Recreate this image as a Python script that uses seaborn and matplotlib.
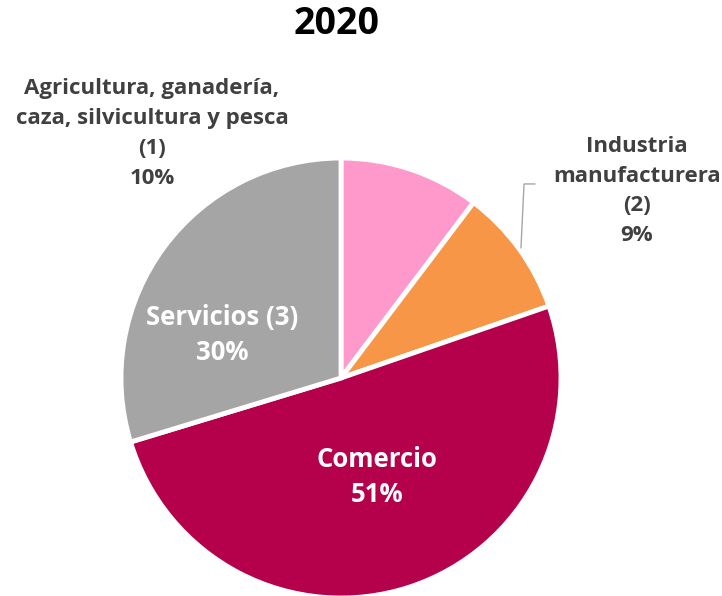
import seaborn as sns
import matplotlib.pyplot as plt

sectores = ['Agricultura, ganadería,\ncaza, silvicultura y pesca\n(1)',
            'Industria\nmanufacturera\n(2)',
            'Comercio',
            'Servicios (3)']
valores = [10.3, 9.4, 50.6, 29.7]
colores = ['#FF99CC', '#F79646', '#B5004B', '#A5A5A5']

sns.set_theme(style='white')
plt.rcParams['font.family'] = ['Open Sans', 'DejaVu Sans']

fig = plt.figure(figsize=(7.22, 5.96), dpi=100)
ax = fig.add_axes([121 / 722, -2 / 596, 440 / 722, 440 / 596])

ax.pie(valores, colors=colores, startangle=90, counterclock=False,
       radius=1, wedgeprops=dict(edgecolor='white', linewidth=3.5))
ax.set_xlim(-1, 1)
ax.set_ylim(-1, 1)
ax.set_aspect('equal')
ax.axis('off')

pct = [f'{v:.0f}%' for v in valores]

# etiquetas exteriores
ax.text(-0.859, 1.11, f'{sectores[0]}\n{pct[0]}', ha='center', va='center',
        fontsize=16, fontweight='bold', color='#404040', linespacing=1.56,
        clip_on=False)
ax.text(1.345, 0.85, f'{sectores[1]}\n{pct[1]}', ha='center', va='center',
        fontsize=16, fontweight='bold', color='#404040', linespacing=1.56,
        clip_on=False)
ax.plot([0.818, 0.832, 0.882], [0.591, 0.882, 0.882], color='#A6A6A6',
        lw=1, clip_on=False)

# etiquetas interiores
ax.text(0.164, -0.45, f'{sectores[2]}\n{pct[2]}', ha='center', va='center',
        fontsize=18.5, fontweight='bold', color='white', linespacing=1.35)
ax.text(-0.541, 0.195, f'{sectores[3]}\n{pct[3]}', ha='center', va='center',
        fontsize=18.5, fontweight='bold', color='white', linespacing=1.35)

fig.text(337 / 722, 1 - 24 / 596, '2020', ha='center', va='center',
         fontsize=27, fontweight='bold', color='black')

plt.savefig('out.png', dpi=100)
plt.close()
